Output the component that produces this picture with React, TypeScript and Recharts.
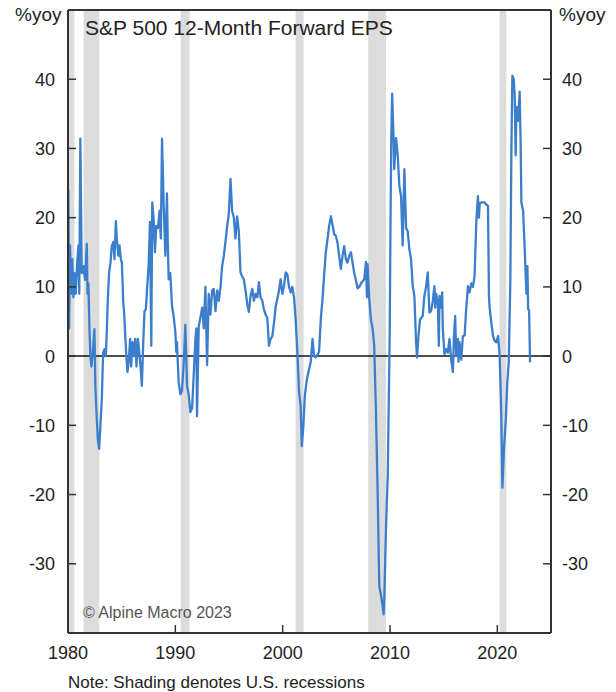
import React from 'react';
import { LineChart, Line, XAxis, YAxis, ReferenceArea, ReferenceLine } from 'recharts';

const dates = [
  1980.03, 1980.10, 1980.19, 1980.30, 1980.40, 1980.50, 1980.60, 1980.72, 1980.84, 1980.97,
  1981.05, 1981.15, 1981.28, 1981.43, 1981.59, 1981.75, 1981.82, 1981.90, 1982.00, 1982.09,
  1982.18, 1982.33, 1982.46, 1982.55, 1982.65, 1982.78, 1982.90, 1983.02, 1983.15, 1983.27,
  1983.40, 1983.52, 1983.60, 1983.71, 1983.83, 1983.96, 1984.08, 1984.23, 1984.33, 1984.46,
  1984.55, 1984.70, 1984.80, 1984.92, 1985.02, 1985.14, 1985.23, 1985.33, 1985.42, 1985.54,
  1985.67, 1985.79, 1985.89, 1986.01, 1986.14, 1986.26, 1986.38, 1986.51, 1986.64, 1986.76,
  1986.88, 1987.01, 1987.13, 1987.26, 1987.38, 1987.51, 1987.64, 1987.76, 1987.85, 1987.97,
  1988.10, 1988.22, 1988.38, 1988.53, 1988.65, 1988.76, 1988.91, 1989.07, 1989.22, 1989.30,
  1989.38, 1989.53, 1989.69, 1989.84, 1990.00, 1990.09, 1990.15, 1990.31, 1990.47, 1990.62,
  1990.78, 1990.93, 1991.09, 1991.24, 1991.40, 1991.56, 1991.71, 1991.87, 1991.96, 1992.02,
  1992.18, 1992.34, 1992.50, 1992.65, 1992.80, 1992.96, 1993.11, 1993.27, 1993.43, 1993.58,
  1993.74, 1993.90, 1994.05, 1994.21, 1994.36, 1994.52, 1994.67, 1994.83, 1994.98, 1995.14,
  1995.29, 1995.45, 1995.60, 1995.76, 1995.92, 1996.07, 1996.23, 1996.38, 1996.54, 1996.70,
  1996.85, 1997.01, 1997.17, 1997.32, 1997.48, 1997.64, 1997.79, 1997.94, 1998.10, 1998.25,
  1998.41, 1998.57, 1998.72, 1998.88, 1999.04, 1999.19, 1999.35, 1999.50, 1999.66, 1999.81,
  1999.97, 2000.12, 2000.28, 2000.44, 2000.59, 2000.75, 2000.90, 2001.06, 2001.21, 2001.37,
  2001.52, 2001.68, 2001.78, 2001.93, 2002.06, 2002.24, 2002.46, 2002.62, 2002.78, 2002.93,
  2003.08, 2003.24, 2003.39, 2003.55, 2003.71, 2003.86, 2004.02, 2004.18, 2004.33, 2004.49,
  2004.64, 2004.80, 2004.95, 2005.11, 2005.26, 2005.42, 2005.58, 2005.73, 2005.89, 2006.04,
  2006.20, 2006.36, 2006.51, 2006.67, 2006.82, 2006.98, 2007.13, 2007.29, 2007.45, 2007.60,
  2007.76, 2007.85, 2007.91, 2008.07, 2008.22, 2008.38, 2008.53, 2008.69, 2008.85, 2009.00,
  2009.16, 2009.32, 2009.41, 2009.47, 2009.63, 2009.79, 2009.88, 2009.97, 2010.05, 2010.12,
  2010.20, 2010.34, 2010.39, 2010.56, 2010.72, 2010.87, 2011.03, 2011.18, 2011.34, 2011.50,
  2011.65, 2011.80, 2011.96, 2012.12, 2012.27, 2012.43, 2012.52, 2012.65, 2012.80, 2013.05,
  2013.20, 2013.36, 2013.52, 2013.67, 2013.83, 2013.99, 2014.14, 2014.21, 2014.30, 2014.46,
  2014.55, 2014.61, 2014.77, 2014.86, 2014.92, 2015.07, 2015.23, 2015.39, 2015.54, 2015.70,
  2015.86, 2015.95, 2016.07, 2016.17, 2016.33, 2016.38, 2016.48, 2016.64, 2016.79, 2016.95,
  2017.10, 2017.26, 2017.41, 2017.57, 2017.73, 2017.88, 2018.04, 2018.19, 2018.29, 2018.35,
  2018.50, 2018.66, 2018.81, 2018.97, 2019.13, 2019.22, 2019.28, 2019.44, 2019.60, 2019.75,
  2019.91, 2020.07, 2020.22, 2020.37, 2020.47, 2020.63, 2020.78, 2020.93, 2021.06, 2021.21,
  2021.31, 2021.40, 2021.53, 2021.62, 2021.71, 2021.78, 2021.93, 2022.08, 2022.17, 2022.24,
  2022.40, 2022.55, 2022.71, 2022.80, 2022.87, 2022.96, 2023.05,
];

const epsYoY = [
  24, 4, 16, 9, 14, 8.5, 12, 9, 13, 16,
  9, 31.4, 12, 13, 11, 16.2, 9, 10.5, 4, 0,
  -1.5, 0.8, 3.9, -4.3, -8, -12, -13.4, -10, -6.2, 0.5,
  1, 0, 2.9, 8.2, 12.1, 13.5, 15.9, 16.5, 14, 19.5,
  16.9, 14.5, 16, 14, 13.5, 8, 6.3, 3, 0.5, -2.3,
  -0.5, 2.5, -1.5, 2, 0, 2.5, -1.5, 2.5, 0.5, -1.5,
  -4.3, 2, 6.5, 6.8, 10, 13, 19.4, 1.5, 22.2, 20,
  15, 18.8, 18.5, 21, 17, 31.4, 22, 14.5, 23.5, 16,
  11.1, 12, 7.2, 5.8, 3.5, 0.6, 2, -3.8, -5.5, -5,
  -1, 4.5, -4.3, -5.5, -8.1, -7.5, -2.8, 2.5, 4, -8.7,
  4.3, 5.6, 7, 4, 10, -1.3, 9, 6, 9.5, 9.7,
  6.5, 9.5, 8, 10, 13, 14.5, 16.5, 18.8, 20.5, 25.6,
  21, 20, 17, 20.2, 17.9, 12.1, 11.5, 11.1, 9.5, 7.5,
  6.4, 8.7, 9.7, 8, 9, 8.5, 10.7, 8.5, 8, 6.8,
  6, 5.5, 1.5, 2.5, 2.9, 4.8, 7.2, 8.2, 9.5, 11.1,
  9, 10.1, 12.1, 11.8, 10, 9.2, 10, 8.5, 5.3, 0.6,
  -5, -7.3, -13, -10.1, -5.8, -3.5, -1.9, -0.8, 2.5, 0,
  -0.2, 0.2, 0.6, 5.3, 8.2, 11.6, 15, 16.9, 18.8, 20.2,
  19, 17.6, 17.4, 16.4, 14.5, 12.6, 14.5, 15.9, 14, 13.5,
  14.5, 15, 13.5, 12, 11, 9.8, 10, 10.5, 10.8, 11.1,
  13.6, 8.5, 13.3, 8.2, 5.3, 4, 1.5, -8, -19.7, -33.2,
  -34.5, -36.2, -37.3, -35, -24.6, -17.3, -7.2, 3, 20, 31.4,
  37.9, 31, 27, 31.5, 29, 24.6, 23.1, 16, 27, 18.5,
  18, 15.5, 14, 10.1, 8.7, 2, -0.2, 2.9, 5.3, 5.8,
  8.7, 10, 12.1, 6.3, 6.5, 8, 10.1, 7, 9, 7.5,
  1.5, 8.7, 7, 9.2, 4, 0.3, 1, 0.5, 2.5, -0.5,
  -2.3, 2.5, 5.8, 0, 2.5, -0.8, 2, -0.5, 2.9, 3,
  6.8, 10.1, 9.2, 10.5, 10, 11.6, 19.4, 23.1, 20, 22,
  22.2, 22.2, 22.2, 21.9, 21.7, 8.7, 7, 4.8, 2.9, 2.2,
  2, 2.9, 0, -8.7, -19, -13, -9.5, -3.8, -0.9, 10.7,
  29.9, 40.5, 40, 37.5, 29, 36, 34, 38.2, 30.9, 22.2,
  21, 15.5, 9, 13, 6.8, 6.6, -0.9,
];

const recessionStarts = [1980.0, 1981.45, 1990.5, 2001.2, 2007.97, 2020.22];
const recessionEnds = [1980.6, 1982.92, 1991.33, 2001.95, 2009.62, 2020.84];

const yearTicks = [1980, 1990, 2000, 2010, 2020];
const valueTicks = [-30, -20, -10, 0, 10, 20, 30, 40];

const chartTitle = 'S&P 500 12-Month Forward EPS';
const unitLabel = '%yoy';
const sourceLabel = '© Alpine Macro 2023';
const noteLabel = 'Note: Shading denotes U.S. recessions';

const data = dates.map((d, i) => ({ date: d, eps: epsYoY[i] }));
const recessions = recessionStarts.map((s, i) => ({ s, e: recessionEnds[i] }));

const FONT = '"Liberation Sans", Arial, Helvetica, sans-serif';
const AXIS = '#333333';
const TEXT = '#222222';

const LeftTick = (props: any) => {
  const { x, y, payload } = props;
  return (
    <g>
      <line x1={x} x2={x + 8} y1={y} y2={y} stroke={AXIS} strokeWidth={1.5} />
      <text x={x - 13} y={y + 6.5} textAnchor="end" fontSize={18} fill={TEXT} fontFamily={FONT}>
        {payload.value}
      </text>
    </g>
  );
};

const RightTick = (props: any) => {
  const { x, y, payload } = props;
  return (
    <g>
      <line x1={x - 8} x2={x} y1={y} y2={y} stroke={AXIS} strokeWidth={1.5} />
      <text x={x + 11} y={y + 6.5} textAnchor="start" fontSize={18} fill={TEXT} fontFamily={FONT}>
        {payload.value}
      </text>
    </g>
  );
};

const BottomTick = (props: any) => {
  const { x, y, payload } = props;
  return (
    <g>
      {payload.value !== 1980 && (
        <line x1={x} x2={x} y1={y - 8} y2={y} stroke={AXIS} strokeWidth={1.5} />
      )}
      <text x={x} y={y + 26} textAnchor="middle" fontSize={18} fill={TEXT} fontFamily={FONT}>
        {payload.value}
      </text>
    </g>
  );
};

export default function App() {
  return (
    <div style={{ position: 'absolute', left: 0, top: 0, width: 616, height: 692, background: '#fff' }}>
      <LineChart
        width={616}
        height={692}
        data={data}
        margin={{ top: 10, left: 18, right: 15, bottom: 19 }}
      >
        <XAxis
          dataKey="date"
          type="number"
          domain={[1980, 2025]}
          allowDataOverflow
          ticks={yearTicks}
          interval={0}
          height={40}
          tickSize={0}
          tickMargin={0}
          tickLine={false}
          tick={<BottomTick />}
          axisLine={{ stroke: AXIS, strokeWidth: 2 }}
        />
        <YAxis
          yAxisId="left"
          orientation="left"
          type="number"
          domain={[-40, 50]}
          allowDataOverflow
          ticks={valueTicks}
          interval={0}
          width={50}
          tickSize={0}
          tickMargin={0}
          tickLine={false}
          tick={<LeftTick />}
          axisLine={{ stroke: AXIS, strokeWidth: 2 }}
        />
        <YAxis
          yAxisId="right"
          orientation="right"
          type="number"
          domain={[-40, 50]}
          allowDataOverflow
          ticks={valueTicks}
          interval={0}
          width={50}
          tickSize={0}
          tickMargin={0}
          tickLine={false}
          tick={<RightTick />}
          axisLine={{ stroke: AXIS, strokeWidth: 2 }}
        />
        {recessions.map((r, i) => (
          <ReferenceArea
            key={i}
            yAxisId="left"
            x1={r.s}
            x2={r.e}
            y1={-40}
            y2={50}
            fill="#dcdcdc"
            fillOpacity={1}
            stroke="none"
            ifOverflow="hidden"
          />
        ))}
        <ReferenceLine yAxisId="left" y={0} stroke="#111" strokeWidth={1.5} />
        <ReferenceLine yAxisId="left" y={50} stroke={AXIS} strokeWidth={2} />
        <Line
          yAxisId="left"
          type="linear"
          dataKey="eps"
          stroke="#3b7fcc"
          strokeWidth={2.3}
          strokeLinejoin="round"
          dot={false}
          isAnimationActive={false}
        />
      </LineChart>
      <svg
        width={616}
        height={692}
        style={{ position: 'absolute', left: 0, top: 0, pointerEvents: 'none' }}
      >
        <text x={15} y={21} fontSize={19} fill={TEXT} fontFamily={FONT}>{unitLabel}</text>
        <text x={559} y={21} fontSize={19} fill={TEXT} fontFamily={FONT}>{unitLabel}</text>
        <text x={85} y={35} fontSize={21} fill={TEXT} fontFamily={FONT}>{chartTitle}</text>
        <text x={83} y={618} fontSize={16} fill="#555" fontFamily={FONT}>{sourceLabel}</text>
        <text x={68} y={688} fontSize={17} fill={TEXT} fontFamily={FONT}>{noteLabel}</text>
      </svg>
    </div>
  );
}
